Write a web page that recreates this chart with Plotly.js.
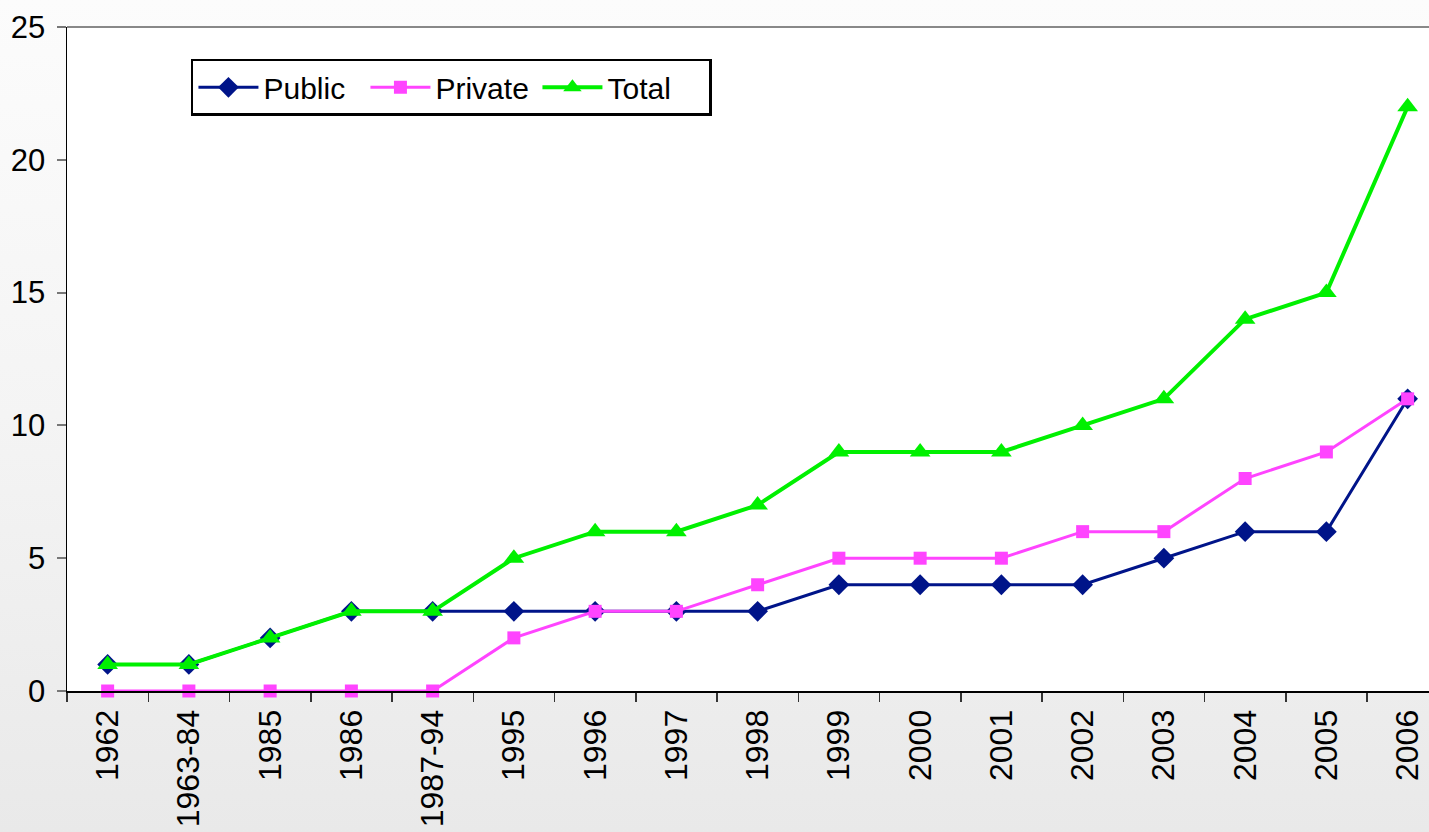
<!DOCTYPE html>
<html>
<head>
<meta charset="utf-8">
<script src="https://cdn.plot.ly/plotly-3.0.1.min.js"></script>
<style>
html,body{margin:0;padding:0;}
body{width:1429px;height:832px;background:linear-gradient(to bottom,#fcfcfc 0%,#f4f4f4 50%,#e9e9e9 100%);overflow:hidden;}
#chart{width:1429px;height:832px;}
</style>
</head>
<body>
<div id="chart"></div>
<script>
const categories = ["1962","1963-84","1985","1986","1987-94","1995","1996","1997","1998","1999","2000","2001","2002","2003","2004","2005","2006"];
const publicVals  = [1,1,2,3,3,3,3,3,3,4,4,4,4,5,6,6,11];
const privateVals = [0,0,0,0,0,2,3,3,4,5,5,5,6,6,8,9,11];
const totalVals   = [1,1,2,3,3,5,6,6,7,9,9,9,10,11,14,15,22];
const yTicks = [0,5,10,15,20,25];

const traces = [
  {x:categories, y:publicVals, name:"Public", type:"scatter", mode:"lines+markers",
   line:{color:"#001489", width:3}, marker:{symbol:"diamond", size:16, color:"#001489"}, cliponaxis:false},
  {x:categories, y:privateVals, name:"Private", type:"scatter", mode:"lines+markers",
   line:{color:"#ff44ff", width:3}, marker:{symbol:"square", size:13, color:"#ff44ff"}, cliponaxis:false},
  {x:categories, y:totalVals, name:"Total", type:"scatter", mode:"lines+markers",
   line:{color:"#00f000", width:4}, marker:{symbol:"triangle-up", size:18, color:"#00f000"}, cliponaxis:false}
];

const layout = {
  width:1429, height:832,
  margin:{l:67, r:0, t:27, b:141},
  paper_bgcolor:"rgba(0,0,0,0)",
  plot_bgcolor:"#ffffff",
  font:{family:"Liberation Sans, Arial, sans-serif", color:"#000", size:30},
  showlegend:true,
  legend:{orientation:"h", x:0.091, y:0.952, xanchor:"left", yanchor:"top",
    bgcolor:"#ffffff", bordercolor:"#000", borderwidth:2.5,
    font:{size:30, family:"Liberation Sans, Arial, sans-serif"},
    entrywidth:97, entrywidthmode:"pixels", itemwidth:60, tracegroupgap:0},
  xaxis:{type:"category", range:[-0.5,16.263], showgrid:false, zeroline:false,
    showline:true, linecolor:"#000", linewidth:2,
    ticks:"outside", tickson:"boundaries", ticklen:9, tickcolor:"#333", tickwidth:1.5,
    tickangle:-90, tickfont:{size:32}, ticklabelstandoff:4, fixedrange:true},
  yaxis:{range:[0,25], tickvals:yTicks, ticktext:yTicks.map(String),
    showgrid:false, zeroline:false, showline:true, linecolor:"#000", linewidth:1.5,
    ticks:"outside", ticklen:9, tickcolor:"#777", tickwidth:2, tickfont:{size:31},
    ticklabelstandoff:5, fixedrange:true},
  shapes:[{type:"line", xref:"paper", yref:"paper", x0:0, x1:1, y0:1, y1:1, line:{color:"#888", width:2}}]
};

Plotly.newPlot("chart", traces, layout, {displayModeBar:false, staticPlot:true});
</script>
</body>
</html>
